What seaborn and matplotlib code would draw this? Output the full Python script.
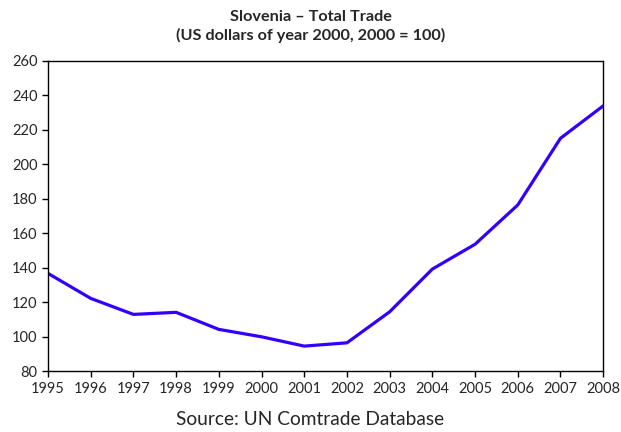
import pandas as pd
import matplotlib.pyplot as plt
import seaborn as sns

# Datos
anios = [1995, 1996, 1997, 1998, 1999, 2000, 2001, 2002, 2003, 2004, 2005, 2006, 2007, 2008]
indice = [136.7, 122.2, 112.9, 114.1, 104.2, 99.9, 94.5, 96.4, 114.4, 139.2, 153.6, 176.4, 215.1, 233.9]

df = pd.DataFrame({'Anio': anios, 'Indice': indice})

sns.set_style('ticks')
plt.rcParams['font.family'] = ['Lato', 'DejaVu Sans']

fig = plt.figure(figsize=(6.21, 4.32), dpi=100)
ax = fig.add_axes([0.0773, 0.141, 0.894, 0.718])

sns.lineplot(data=df, x='Anio', y='Indice', color='#3300FF', linewidth=2.3, ax=ax)

ax.set_xlim(1995, 2008)
ax.set_ylim(80, 260)
ax.set_xticks(anios)
ax.set_yticks(range(80, 261, 20))
ax.tick_params(axis='both', labelsize=10.5, length=4, width=1, color='black', direction='out')
ax.set_xlabel('')
ax.set_ylabel('')
for s in ax.spines.values():
    s.set_color('black')
    s.set_linewidth(1)

fig.text(0.5, 0.978, 'Slovenia – Total Trade\n(US dollars of year 2000, 2000 = 100)',
         ha='center', va='top', fontsize=11.7, fontweight='bold', linespacing=1.35)
fig.text(0.5, 0.03, 'Source: UN Comtrade Database', ha='center', va='center', fontsize=13.8)

fig.savefig('out.png', dpi=100)
